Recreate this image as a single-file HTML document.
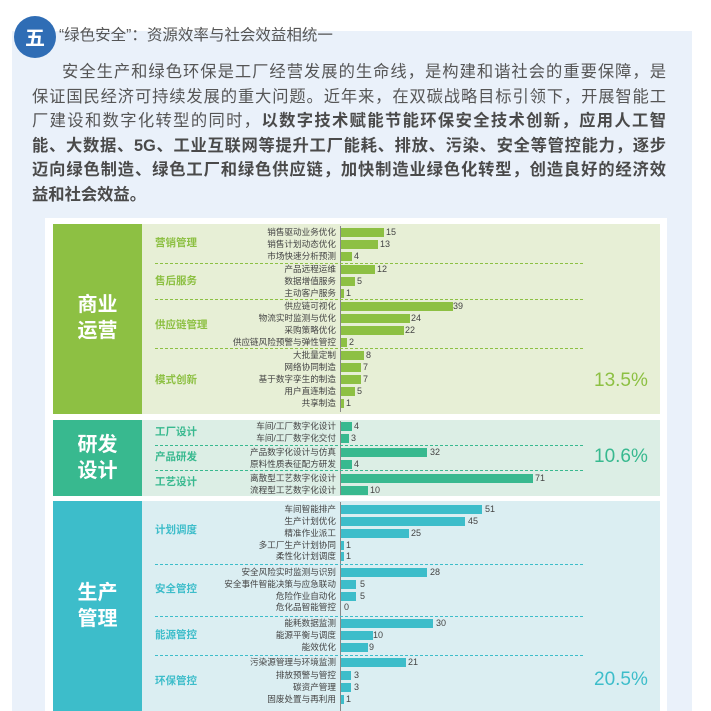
<!DOCTYPE html>
<html><head><meta charset="utf-8"><style>
*{margin:0;padding:0;box-sizing:border-box}
body{width:711px;height:711px;background:#fff;position:relative;overflow:hidden;font-family:"Liberation Sans","Noto Sans CJK SC",sans-serif}
.a{position:absolute}
.ln{position:absolute;left:32px;width:634px;font-size:16.3px;color:#555;line-height:24px;height:24px;text-align:justify;text-align-last:justify;white-space:nowrap;overflow:visible}
.ln b{color:#4a4a4a}
.lab{position:absolute;right:375px;font-size:8.6px;color:#444;white-space:nowrap;line-height:10px}
.bar{position:absolute;left:341px;height:8.5px}
.num{position:absolute;font-size:9px;color:#444;line-height:10px}
.sub{position:absolute;left:155px;font-size:10.5px;font-weight:bold;line-height:12px}
.dash{position:absolute;left:155px;width:428px;height:0;border-top:1.3px dashed}
.big{position:absolute;color:#fff;font-size:20px;line-height:26px;text-align:center;width:89px;font-weight:bold}
.pct{position:absolute;left:594px;font-size:19px;line-height:22px}
.ax{position:absolute;left:340px;width:1px;background:#888}
</style></head><body>
<div class="a" style="left:12px;top:31px;width:680px;height:680px;background:#eaf1fa"></div>
<div class="a" style="left:14px;top:16px;width:42px;height:42px;border-radius:50%;background:#2f6db5;color:#fff;font-weight:bold;font-size:20px;line-height:42px;text-align:center;font-family:'Noto Sans CJK SC',sans-serif">五</div>
<div class="a" style="left:59px;top:26px;font-size:15.5px;color:#555;line-height:20px">“绿色安全”：资源效率与社会效益相统一</div>
<div class="ln" style="top:60px;left:62px;width:604px">安全生产和绿色环保是工厂经营发展的生命线，是构建和谐社会的重要保障，是</div>
<div class="ln" style="top:84.5px">保证国民经济可持续发展的重大问题。近年来，在双碳战略目标引领下，开展智能工</div>
<div class="ln" style="top:109px">厂建设和数字化转型的同时，<b>以数字技术赋能节能环保安全技术创新，应用人工智</b></div>
<div class="ln" style="top:133.5px"><b>能、大数据、5G、工业互联网等提升工厂能耗、排放、污染、安全等管控能力，逐步</b></div>
<div class="ln" style="top:158px"><b>迈向绿色制造、绿色工厂和绿色供应链，加快制造业绿色化转型，创造良好的经济效</b></div>
<div class="ln" style="top:182.5px;text-align-last:left"><b>益和社会效益。</b></div>
<div class="a" style="left:45px;top:218px;width:622px;height:493px;background:#fff"></div>
<!-- section 1 -->
<div class="a" style="left:53px;top:224px;width:89px;height:190px;background:#8dc043"></div>
<div class="a" style="left:142px;top:224px;width:518px;height:190px;background:#e7efd6"></div>
<div class="big" style="left:53px;top:292px">商业<br>运营</div>
<div class="ax" style="top:226px;height:186px"></div>
<div class="sub" style="top:237px;color:#8dc043">营销管理</div>
<div class="sub" style="top:275px;color:#8dc043">售后服务</div>
<div class="sub" style="top:319px;color:#8dc043">供应链管理</div>
<div class="sub" style="top:374px;color:#8dc043">模式创新</div>
<div class="dash" style="top:263px;border-color:#8dc043"></div>
<div class="dash" style="top:299px;border-color:#8dc043"></div>
<div class="dash" style="top:348px;border-color:#8dc043"></div>
<div class="pct" style="top:370px;color:#8dc043">13.5%</div>
<div class="lab" style="top:227px">销售驱动业务优化</div><div class="bar" style="top:228px;width:43px;background:#8dc043"></div><div class="num" style="top:227px;left:386px">15</div>
<div class="lab" style="top:239px">销售计划动态优化</div><div class="bar" style="top:240px;width:37px;background:#8dc043"></div><div class="num" style="top:239px;left:380px">13</div>
<div class="lab" style="top:251px">市场快速分析预测</div><div class="bar" style="top:252px;width:11px;background:#8dc043"></div><div class="num" style="top:251px;left:354px">4</div>
<div class="lab" style="top:264px">产品远程运维</div><div class="bar" style="top:265px;width:34px;background:#8dc043"></div><div class="num" style="top:264px;left:377px">12</div>
<div class="lab" style="top:276px">数据增值服务</div><div class="bar" style="top:277px;width:14px;background:#8dc043"></div><div class="num" style="top:276px;left:357px">5</div>
<div class="lab" style="top:288px">主动客户服务</div><div class="bar" style="top:289px;width:3px;background:#8dc043"></div><div class="num" style="top:288px;left:346px">1</div>
<div class="lab" style="top:301px">供应链可视化</div><div class="bar" style="top:302px;width:112px;background:#8dc043"></div><div class="num" style="top:301px;left:453px">39</div>
<div class="lab" style="top:313px">物流实时监测与优化</div><div class="bar" style="top:314px;width:69px;background:#8dc043"></div><div class="num" style="top:313px;left:411px">24</div>
<div class="lab" style="top:325px">采购策略优化</div><div class="bar" style="top:326px;width:63px;background:#8dc043"></div><div class="num" style="top:325px;left:405px">22</div>
<div class="lab" style="top:337px">供应链风险预警与弹性管控</div><div class="bar" style="top:338px;width:6px;background:#8dc043"></div><div class="num" style="top:337px;left:349px">2</div>
<div class="lab" style="top:350px">大批量定制</div><div class="bar" style="top:351px;width:23px;background:#8dc043"></div><div class="num" style="top:350px;left:366px">8</div>
<div class="lab" style="top:362px">网络协同制造</div><div class="bar" style="top:363px;width:20px;background:#8dc043"></div><div class="num" style="top:362px;left:363px">7</div>
<div class="lab" style="top:374px">基于数字孪生的制造</div><div class="bar" style="top:375px;width:20px;background:#8dc043"></div><div class="num" style="top:374px;left:363px">7</div>
<div class="lab" style="top:386px">用户直连制造</div><div class="bar" style="top:387px;width:14px;background:#8dc043"></div><div class="num" style="top:386px;left:357px">5</div>
<div class="lab" style="top:398px">共享制造</div><div class="bar" style="top:399px;width:3px;background:#8dc043"></div><div class="num" style="top:398px;left:346px">1</div>
<!-- section 2 -->
<div class="a" style="left:53px;top:420px;width:89px;height:76px;background:#38b98f"></div>
<div class="a" style="left:142px;top:420px;width:518px;height:76px;background:#dceee5"></div>
<div class="big" style="left:53px;top:432px">研发<br>设计</div>
<div class="ax" style="top:421px;height:74px"></div>
<div class="sub" style="top:426px;color:#38b98f">工厂设计</div>
<div class="sub" style="top:451px;color:#38b98f">产品研发</div>
<div class="sub" style="top:476px;color:#38b98f">工艺设计</div>
<div class="dash" style="top:445px;border-color:#38b98f"></div>
<div class="dash" style="top:470px;border-color:#38b98f"></div>
<div class="pct" style="top:446px;color:#38b98f">10.6%</div>
<div class="lab" style="top:421px">车间/工厂数字化设计</div><div class="bar" style="top:422px;width:11px;background:#38b98f"></div><div class="num" style="top:421px;left:354px">4</div>
<div class="lab" style="top:433px">车间/工厂数字化交付</div><div class="bar" style="top:434px;width:8px;background:#38b98f"></div><div class="num" style="top:433px;left:351px">3</div>
<div class="lab" style="top:447px">产品数字化设计与仿真</div><div class="bar" style="top:448px;width:86px;background:#38b98f"></div><div class="num" style="top:447px;left:430px">32</div>
<div class="lab" style="top:459px">原料性质表征配方研发</div><div class="bar" style="top:460px;width:11px;background:#38b98f"></div><div class="num" style="top:459px;left:354px">4</div>
<div class="lab" style="top:473px">离散型工艺数字化设计</div><div class="bar" style="top:474px;width:192px;background:#38b98f"></div><div class="num" style="top:473px;left:535px">71</div>
<div class="lab" style="top:485px">流程型工艺数字化设计</div><div class="bar" style="top:486px;width:27px;background:#38b98f"></div><div class="num" style="top:485px;left:370px">10</div>
<!-- section 3 -->
<div class="a" style="left:53px;top:501px;width:89px;height:210px;background:#3dbdca"></div>
<div class="a" style="left:142px;top:501px;width:518px;height:210px;background:#dbeef2"></div>
<div class="big" style="left:53px;top:580px">生产<br>管理</div>
<div class="ax" style="top:502px;height:209px"></div>
<div class="sub" style="top:524px;color:#3dbdca">计划调度</div>
<div class="sub" style="top:583px;color:#3dbdca">安全管控</div>
<div class="sub" style="top:629px;color:#3dbdca">能源管控</div>
<div class="sub" style="top:675px;color:#3dbdca">环保管控</div>
<div class="dash" style="top:564px;border-color:#3dbdca"></div>
<div class="dash" style="top:616px;border-color:#3dbdca"></div>
<div class="dash" style="top:655px;border-color:#3dbdca"></div>
<div class="pct" style="top:669px;color:#3dbdca">20.5%</div>
<div class="lab" style="top:504px">车间智能排产</div><div class="bar" style="top:505px;width:141px;background:#3dbdca"></div><div class="num" style="top:504px;left:485px">51</div>
<div class="lab" style="top:516px">生产计划优化</div><div class="bar" style="top:517px;width:124px;background:#3dbdca"></div><div class="num" style="top:516px;left:468px">45</div>
<div class="lab" style="top:528px">精准作业派工</div><div class="bar" style="top:529px;width:68px;background:#3dbdca"></div><div class="num" style="top:528px;left:411px">25</div>
<div class="lab" style="top:540px">多工厂生产计划协同</div><div class="bar" style="top:541px;width:3px;background:#3dbdca"></div><div class="num" style="top:540px;left:346px">1</div>
<div class="lab" style="top:551px">柔性化计划调度</div><div class="bar" style="top:552px;width:3px;background:#3dbdca"></div><div class="num" style="top:551px;left:346px">1</div>
<div class="lab" style="top:567px">安全风险实时监测与识别</div><div class="bar" style="top:568px;width:86px;background:#3dbdca"></div><div class="num" style="top:567px;left:430px">28</div>
<div class="lab" style="top:579px">安全事件智能决策与应急联动</div><div class="bar" style="top:580px;width:15px;background:#3dbdca"></div><div class="num" style="top:579px;left:360px">5</div>
<div class="lab" style="top:591px">危险作业自动化</div><div class="bar" style="top:592px;width:15px;background:#3dbdca"></div><div class="num" style="top:591px;left:360px">5</div>
<div class="lab" style="top:602px">危化品智能管控</div><div class="num" style="top:602px;left:344px">0</div>
<div class="lab" style="top:618px">能耗数据监测</div><div class="bar" style="top:619px;width:92px;background:#3dbdca"></div><div class="num" style="top:618px;left:436px">30</div>
<div class="lab" style="top:630px">能源平衡与调度</div><div class="bar" style="top:631px;width:32px;background:#3dbdca"></div><div class="num" style="top:630px;left:373px">10</div>
<div class="lab" style="top:642px">能效优化</div><div class="bar" style="top:643px;width:27px;background:#3dbdca"></div><div class="num" style="top:642px;left:369px">9</div>
<div class="lab" style="top:657px">污染源管理与环境监测</div><div class="bar" style="top:658px;width:65px;background:#3dbdca"></div><div class="num" style="top:657px;left:408px">21</div>
<div class="lab" style="top:670px">排放预警与管控</div><div class="bar" style="top:671px;width:10px;background:#3dbdca"></div><div class="num" style="top:670px;left:354px">3</div>
<div class="lab" style="top:682px">碳资产管理</div><div class="bar" style="top:683px;width:10px;background:#3dbdca"></div><div class="num" style="top:682px;left:354px">3</div>
<div class="lab" style="top:694px">固废处置与再利用</div><div class="bar" style="top:695px;width:3px;background:#3dbdca"></div><div class="num" style="top:694px;left:346px">1</div>
</body></html>
